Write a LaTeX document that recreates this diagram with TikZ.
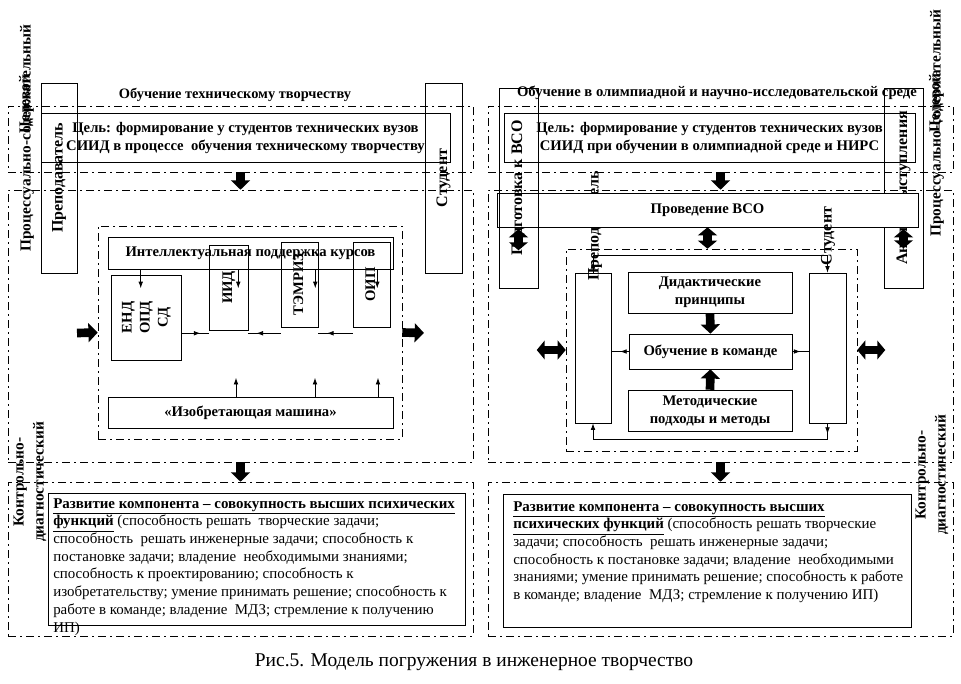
\documentclass[tikz,border=0pt]{standalone}
\usepackage{fontspec}
\usepackage{graphicx}
\setmainfont{Liberation Serif}
\usetikzlibrary{positioning, calc, arrows.meta, decorations.markings}

\newcommand\pxl{0.75pt}
\newcommand\vlabel[1]{\rotatebox{90}{\begin{tabular}{@{}c@{}}#1\end{tabular}}}

\begin{document}
\begin{tikzpicture}[x=0.75pt, y=-0.75pt,
        Box/.style={rectangle, draw=black, inner sep=0pt, align=center, font=\bfseries\fontsize{11}{13.5}\selectfont},
        Band/.style={rectangle, draw=black, inner sep=0pt, dash pattern=on 6pt off 3pt on 1.5pt off 3pt},
        Label/.style={inner sep=0pt, align=center, font=\bfseries\fontsize{11.5}{15}\selectfont},
        Body/.style={inner sep=0pt, align=left, font=\fontsize{11.2}{13.3}\selectfont},
        Fat/.style={line width=6.5pt, -{Triangle[length=7pt, width=14pt]}},
        FatBoth/.style={line width=6.5pt, {Triangle[length=6pt, width=14pt]}-{Triangle[length=6pt, width=14pt]}},
        Tip/.style={semithick, -{Latex[length=5pt, width=3.5pt]}},
        MidArrow/.style={semithick, postaction={decorate}, decoration={markings, mark=at position #1 with {\arrow{Latex[length=5pt, width=3.5pt]}}}}
    ]
    \useasboundingbox (0,0) rectangle (961,683);

    % Left part: teaching of technical creativity
    \node (TITLE_L) [Label, font=\bfseries\fontsize{10.8}{13}\selectfont] at (235,95) {Обучение техническому творчеству};
    \node (GOALBAND_L) [Band, minimum width=465*\pxl, minimum height=66*\pxl] at (240.5,139) {};
    \node (PROCBAND_L) [Band, minimum width=465*\pxl, minimum height=272*\pxl] at (240.5,326) {};
    \node (RESBAND_L) [Band, minimum width=465*\pxl, minimum height=154*\pxl] at (240.5,559) {};

    \node (TEACH_L) [Box, font=\bfseries\fontsize{12}{14}\selectfont, minimum width=36*\pxl, minimum height=190*\pxl] at (59,178) {\vlabel{Преподаватель}};
    \node (STUD_L) [Box, font=\bfseries\fontsize{12}{14}\selectfont, minimum width=37*\pxl, minimum height=190*\pxl] at (443.5,178) {\vlabel{Студент}};
    \node (GOAL_L) [Box, minimum width=409*\pxl, minimum height=49*\pxl] at (245.5,137.5) {Цель: формирование у студентов технических вузов\\СИИД в процессе\ \ обучения техническому творчеству};

    \node (PROC_L) [Label, rotate=90] at (27,138) {Процессуально-содержательный};
    \node (AIM_L) [Label, rotate=90] at (26,104) {Целевой};
    \node (CTRL_L) [Label, rotate=90] at (30,482) {Контрольно-\\диагностический};

    % Inner block of the courses
    \node (INNER_L) [Band, minimum width=304*\pxl, minimum height=213*\pxl] at (250,332.5) {};
    \node (SUP_L) [Box, minimum width=285*\pxl, minimum height=32*\pxl] at (250.5,253) {Интеллектуальная поддержка курсов};
    \node (END_L) [Box, minimum width=70*\pxl, minimum height=85*\pxl] at (146,317.5) {\vlabel{ЕНД\\ОПД\\СД}};
    \node (IID_L) [Box, minimum width=39*\pxl, minimum height=85*\pxl] at (228.5,287.5) {\vlabel{ИИД}};
    \node (TEM_L) [Box, minimum width=37*\pxl, minimum height=85*\pxl] at (299.5,284.5) {\vlabel{ТЭМРИЗ}};
    \node (OIP_L) [Box, minimum width=37*\pxl, minimum height=85*\pxl] at (371.5,284.5) {\vlabel{ОИП}};
    \node (MACH_L) [Box, minimum width=285*\pxl, minimum height=31*\pxl] at (250.5,412.5) {«Изобретающая машина»};

    \draw[Tip] ($(SUP_L.south -| END_L.north west)+(30,0)$) -- ++(0,19);
    \draw[Tip] ($(SUP_L.south -| IID_L.north east)+(-10,0)$) -- ++(0,19);
    \draw[Tip] ($(SUP_L.south -| TEM_L.north east)+(-3,0)$) -- ++(0,19);
    \draw[Tip] ($(SUP_L.south -| OIP_L.north east)+(-13,0)$) -- ++(0,19);
    \draw[MidArrow=0.7] ($(END_L.south east)+(0,-27)$) -- ($(IID_L.south west)+(0,3)$);
    \draw[MidArrow=0.75] ($(TEM_L.south west)+(0,6)$) -- ($(IID_L.south east)+(0,3)$);
    \draw[MidArrow=0.75] ($(OIP_L.south west)+(0,6)$) -- ($(TEM_L.south east)+(0,6)$);
    \draw[Tip] ($(MACH_L.north)+(-14.5,0)$) -- ++(0,-19);
    \draw[Tip] ($(MACH_L.north)+(64.5,0)$) -- ++(0,-19);
    \draw[Tip] ($(MACH_L.north)+(127.5,0)$) -- ++(0,-19);

    \coordinate (IN_L) at (77,333);
    \coordinate (OUT_L) at (424,333);
    \draw[Fat] (IN_L) -- (INNER_L.west);
    \draw[Fat] (INNER_L.east) -- (OUT_L);
    \draw[Fat] (GOALBAND_L.south) -- (PROCBAND_L.north);
    \draw[Fat] (PROCBAND_L.south) -- (RESBAND_L.north);

    % Left result
    \node (RES_L) [Box, minimum width=417*\pxl, minimum height=132*\pxl] at (256.5,559) {};
    \node (RESTXT_L) [Body, anchor=north west] at (53,498) {\underline{\textbf{Развитие компонента – совокупность высших психических}}\\
        \underline{\textbf{функций}} (способность решать\ \ творческие задачи;\\
        способность\ \ решать инженерные задачи; способность к\\
        постановке задачи; владение\ \ необходимыми знаниями;\\
        способность к проектированию; способность к\\
        изобретательству; умение принимать решение; способность к\\
        работе в команде; владение\ \ МДЗ; стремление к получению\\
        ИП)};

    % Right part: olympiad and research environment
    \node (TITLE_R) [Label, font=\bfseries\fontsize{11}{13}\selectfont] at (717,93) {Обучение в олимпиадной и научно-исследовательской среде};
    \node (GOALBAND_R) [Band, minimum width=465*\pxl, minimum height=66*\pxl] at (720.5,139) {};
    \node (PROCBAND_R) [Band, minimum width=465*\pxl, minimum height=272*\pxl] at (720.5,326) {};
    \node (RESBAND_R) [Band, minimum width=465*\pxl, minimum height=154*\pxl] at (720.5,559) {};

    \node (ANAL_R) [Box, font=\bfseries\fontsize{12}{14}\selectfont, minimum width=39*\pxl, minimum height=200*\pxl] at (903.5,188) {\vlabel{Анализ выступления}};
    \node (GOAL_R) [Box, minimum width=411*\pxl, minimum height=49*\pxl] at (709.5,137.5) {Цель: формирование у студентов технических вузов\\СИИД при обучении в олимпиадной среде и НИРС};

    \node (PROC_R) [Label, rotate=90] at (937,123) {Процессуально-содержательный};
    \node (AIM_R) [Label, rotate=90] at (936,103) {Целевой};
    \node (CTRL_R) [Label, rotate=90] at (932,475) {Контрольно-\\диагностический};

    % Inner block of the team
    \node (INNER_R) [Band, minimum width=291*\pxl, minimum height=202*\pxl] at (711.5,350) {};
    \node (PREPTXT_R) [Label, font=\bfseries\fontsize{12}{14}\selectfont, rotate=90] at (595,226) {Преподаватель};
    \node (PROV_R) [Box, fill=white, minimum width=421*\pxl, minimum height=34*\pxl] at (707.5,210) {Проведение ВСО};
    \node (STUDTXT_R) [Label, font=\bfseries\fontsize{12}{14}\selectfont, rotate=90] at (828,236) {Студент};
    \node (PREP_VSO) [Box, font=\bfseries\fontsize{12}{14}\selectfont, minimum width=39*\pxl, minimum height=200*\pxl] at (518.5,188) {\vlabel{Подготовка к ВСО}};
    \node (PREP_R) [Box, minimum width=36*\pxl, minimum height=150*\pxl] at (593,348) {};
    \node (STUD_R) [Box, minimum width=37*\pxl, minimum height=150*\pxl] at (827.5,348) {};
    \node (DID_R) [Box, minimum width=164*\pxl, minimum height=41*\pxl] at (710,292.5) {Дидактические\\принципы};
    \node (TEAM_R) [Box, minimum width=163*\pxl, minimum height=35*\pxl] at (710.5,351.5) {Обучение в команде};
    \node (METH_R) [Box, minimum width=164*\pxl, minimum height=41*\pxl] at (710,410.5) {Методические\\подходы и методы};

    \draw[MidArrow=8pt, -{Latex[length=5pt, width=3.5pt]}] (PREP_R.north) -- ++(0,-17) -| (STUD_R.north);
    \draw[MidArrow=8pt, -{Latex[length=5pt, width=3.5pt]}] (STUD_R.south) -- ++(0,16) -| (PREP_R.south);
    \draw[MidArrow=0.5] (TEAM_R.west) -- (PREP_R.east |- TEAM_R.west);
    \draw[MidArrow=0.5] (TEAM_R.east) -- (STUD_R.west |- TEAM_R.east);
    \draw[Fat] (DID_R.south) -- (TEAM_R.north);
    \draw[Fat] (METH_R.north) -- (TEAM_R.south);

    \draw[FatBoth] (PROV_R.south) -- (PROV_R.south |- INNER_R.north);
    \draw[FatBoth] ($(PROV_R.south -| PREP_VSO)+(0,2)$) -- ++(0,21);
    \draw[FatBoth] ($(PROV_R.south -| ANAL_R)+(0,2)$) -- ++(0,19);
    \draw[FatBoth] (INNER_R.west) -- ++(-29,0);
    \draw[FatBoth] (INNER_R.east) -- ++(28,0);
    \draw[Fat] (GOALBAND_R.south) -- (PROCBAND_R.north);
    \draw[Fat] (PROCBAND_R.south) -- (RESBAND_R.north);

    % Right result
    \node (RES_R) [Box, minimum width=408*\pxl, minimum height=133*\pxl] at (707,560.5) {};
    \node (RESTXT_R) [Body, anchor=north west] at (513,501) {\underline{\textbf{Развитие компонента – совокупность высших}}\\
        \underline{\textbf{психических функций}} (способность решать творческие\\
        задачи; способность\ \ решать инженерные задачи;\\
        способность к постановке задачи; владение\ \ необходимыми\\
        знаниями; умение принимать решение; способность к работе\\
        в команде; владение\ \ МДЗ; стремление к получению ИП)};

    % Caption
    \node (CAPTION) [inner sep=0pt, font=\fontsize{14.6}{17}\selectfont] at (474,662) {Рис.5. Модель погружения в инженерное творчество};
\end{tikzpicture}
\end{document}
